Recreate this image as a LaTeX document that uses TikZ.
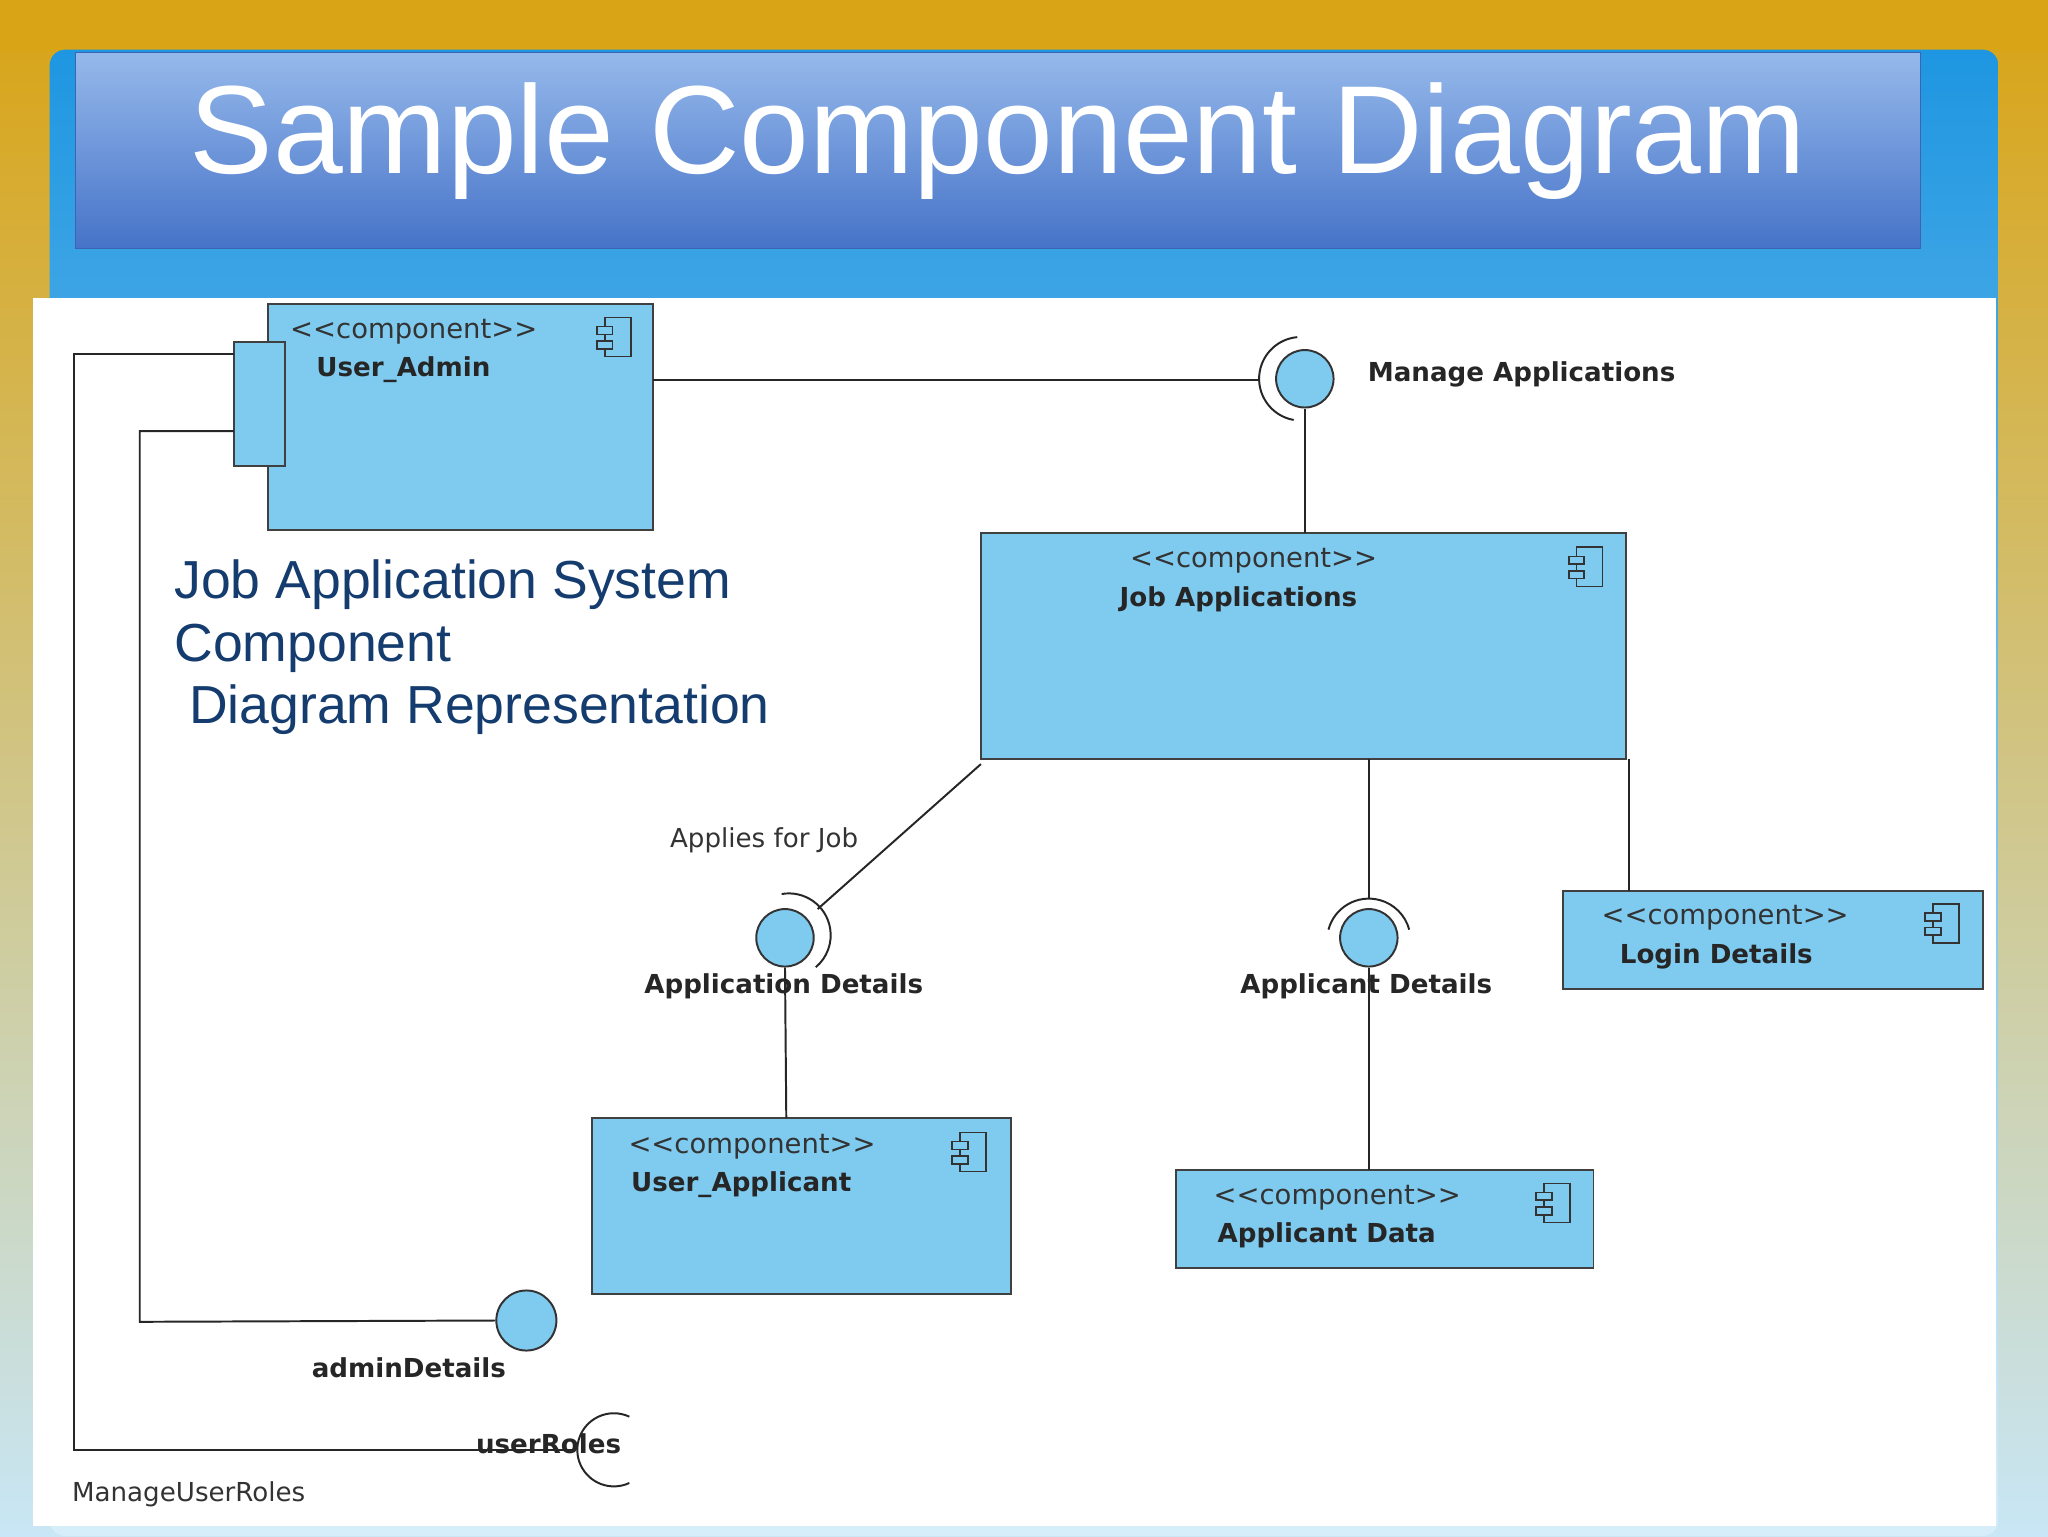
\documentclass[tikz,border=0pt]{standalone}
\usepackage{fontspec}
\setmainfont{Liberation Sans}
\newfontfamily\dv{DejaVu Sans}
\definecolor{cfill}{HTML}{7FCBF0}
\definecolor{navy}{HTML}{143C6E}
\definecolor{gold}{RGB}{217,164,22}
\definecolor{pale}{RGB}{200,230,245}
\definecolor{sky}{RGB}{30,150,225}
\definecolor{skyb}{RGB}{215,238,250}
\definecolor{bant}{RGB}{150,185,235}
\definecolor{banb}{RGB}{70,115,200}
\definecolor{band}{RGB}{60,100,180}
\begin{document}
\begin{tikzpicture}[x=1pt,y=-1pt,
  comp/.style={draw=black!75,line width=1.5pt,fill=cfill},
  st/.style={font=\dv\fontsize{21}{23}\selectfont,text=black!80,anchor=west,inner sep=0},
  nm/.style={font=\dv\bfseries\fontsize{20}{22}\selectfont,text=black!85,anchor=west,inner sep=0},
  lbl/.style={font=\dv\bfseries\fontsize{20}{22}\selectfont,text=black!85,inner sep=1pt},
  ball/.style={circle,draw=black!80,line width=1.5pt,fill=cfill,minimum size=44pt,inner sep=0},
  wire/.style={draw=black!85,line width=1.5pt},
  icon/.pic={\draw[black!80,line width=1.3pt,fill=cfill] (-10,-15) rectangle (10,15);
    \draw[black!80,line width=1.3pt,fill=cfill] (-16,-8) rectangle (-4,-2) (-16,3) rectangle (-4,9);}]
\useasboundingbox (0,0) rectangle (1568,1176);
\shade[top color=gold,bottom color=pale] (0,0) rectangle (1568,1176);
\fill[gold] (0,0) rectangle (1568,40);
\shade[rounded corners=12pt,top color=sky,bottom color=skyb] (38,38) rectangle (1530,1176);
\shade[top color=bant,bottom color=banb,draw=band] (58,40) rectangle (1470,190);
\node[text=white,font=\fontsize{96}{100}\selectfont] (title) at (764,108) {Sample Component Diagram};
\fill[white] (25,228) rectangle (1528,1168);

% components
\draw[comp] (205,233) rectangle (500,406);
\node[st] (s1) at (222,254) {<<component>>};
\node[nm] (n1) at (242,283) {User\_Admin};
\pic at (473,258) {icon};
\draw[comp] (179,262) rectangle (218,357);
\coordinate (p1) at (179,271); \coordinate (p2) at (179,330);

\draw[comp] (751,408) rectangle (1245,581);
\node[st] (s2) at (865,429) {<<component>>};
\node[nm] (n2) at (857,459) {Job Applications};
\pic at (1217,434) {icon};

\draw[comp] (1197,682) rectangle (1518,757);
\node[st] (s3) at (1226,703) {<<component>>};
\node[nm] (n3) at (1240,732) {Login Details};
\pic at (1490,707) {icon};

\draw[comp] (453,856) rectangle (774,991);
\node[st] (s4) at (481,878) {<<component>>};
\node[nm] (n4) at (483,907) {User\_Applicant};
\pic at (745,882) {icon};

\draw[comp] (900,896) rectangle (1220,971);
\node[st] (s5) at (929,917) {<<component>>};
\node[nm] (n5) at (932,946) {Applicant Data};
\pic at (1192,921) {icon};

% Manage Applications
\node[ball] (b1) at (999,290) {};
\draw[wire] ([shift={(996,290)}]100:32) arc[start angle=100,end angle=265,radius=32];
\draw[wire] (500,291) -- (964,291);
\draw[wire] (b1.south) -- (999,408);
\node[lbl,anchor=west] (l1) at (1046,287) {Manage Applications};

% Applies for job
\node[ball] (b2) at (601,718) {};
\draw[wire] ([shift={(604,716)}]-100:32) arc[start angle=-100,end angle=50,radius=32];
\draw[wire] (751,585) -- (626,696);
\draw[wire] (b2.south) -- (602,856);
\node[font=\dv\fontsize{20}{22}\selectfont,text=black!80] (l2) at (585,643) {Applies for Job};
\node[lbl] (l3) at (600,755) {Application Details};

% Applicant details
\node[ball] (b3) at (1048,718) {};
\draw[wire] ([shift={(1048,720)}]-165:32) arc[start angle=-165,end angle=-15,radius=32];
\draw[wire] (1048,581) -- (1048,688);
\draw[wire] (b3.south) -- (1048,896);
\node[lbl] (l4) at (1046,755) {Applicant Details};

\draw[wire] (1247,581) -- (1247,682);

% admin details
\node[ball,minimum size=46pt] (b4) at (403,1011) {};
\draw[wire] (p2) -- (107,330) -- (107,1012) -- (b4.west);
\node[lbl] (l5) at (313,1047) {adminDetails};

% userRoles
\draw[wire] (p1) -- (57,271) -- (57,1110) -- (440,1110);
\draw[wire] ([shift={(470,1110)}]65:28) arc[start angle=65,end angle=295,radius=28];
\node[lbl] (l6) at (420,1105) {userRoles};
\node[font=\dv\fontsize{20}{22}\selectfont,text=black!80,anchor=west,inner sep=0] (l7) at (55,1144) {ManageUserRoles};

% caption
\node[text=navy,font=\fontsize{41}{48}\selectfont,anchor=north west,align=left] (cap) at (130,425)
 {Job Application System\\Component\\\ Diagram Representation};
\end{tikzpicture}
\end{document}
